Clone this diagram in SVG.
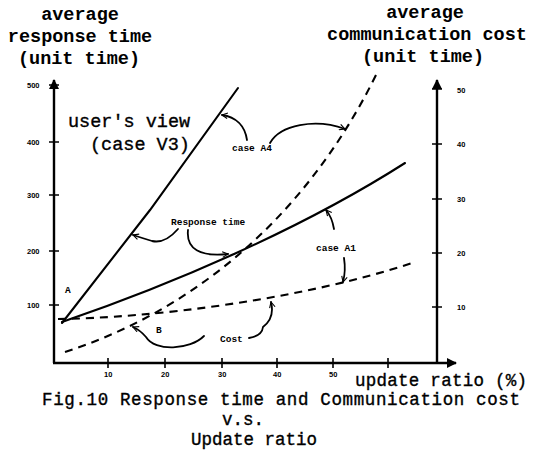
<svg xmlns="http://www.w3.org/2000/svg" width="534" height="459" viewBox="0 0 534 459">
  <style>
    .axis { stroke: #000; stroke-width: 2.4; fill: none; }
    .tick { stroke: #000; stroke-width: 1.6; fill: none; }
    .solid { stroke: #000; stroke-width: 2.1; fill: none; stroke-linecap: round; }
    .dash { stroke: #000; stroke-width: 2.1; fill: none; stroke-dasharray: 8 6; }
    .pointer { stroke: #000; stroke-width: 1.8; fill: none; stroke-linecap: round; marker-end: url(#open); }
    .head { font-family: "Liberation Mono", "DejaVu Sans Mono", monospace; font-size: 18.5px; font-weight: bold; fill: #000; text-anchor: middle; }
    .body { font-family: "Liberation Mono", "DejaVu Sans Mono", monospace; font-size: 18.5px; fill: #000; stroke: #000; stroke-width: 0.35; }
    .cap { font-family: "Liberation Mono", "DejaVu Sans Mono", monospace; font-size: 17.5px; fill: #000; stroke: #000; stroke-width: 0.35; }
    .num { font-family: "Liberation Sans", Arial, sans-serif; font-size: 7.5px; font-weight: bold; fill: #000; }
    .note { font-family: "Liberation Mono", "DejaVu Sans Mono", monospace; font-size: 9.5px; font-weight: bold; fill: #000; }
  </style>
  <defs>
    <marker id="open" viewBox="0 0 10 10" refX="9" refY="5" markerWidth="7" markerHeight="7" markerUnits="userSpaceOnUse" orient="auto">
      <path d="M1,1 L9,5 L1,9" fill="none" stroke="#000" stroke-width="1.6"/>
    </marker>
    <marker id="solidhead" viewBox="0 0 10 10" refX="9" refY="5" markerWidth="10" markerHeight="10" markerUnits="userSpaceOnUse" orient="auto">
      <path d="M0,0 L10,5 L0,10 Z" fill="#000"/>
    </marker>
  </defs>

  <rect width="534" height="459" fill="#fff"/>

  <!-- axis titles -->
  <g id="left-title">
    <text class="head" x="80" y="20">average</text>
    <text class="head" x="80" y="42">response time</text>
    <text class="head" x="79" y="64">(unit time)</text>
  </g>
  <g id="right-title">
    <text class="head" x="425" y="18">average</text>
    <text class="head" x="427" y="40">communication cost</text>
    <text class="head" x="423" y="62">(unit time)</text>
  </g>

  <!-- axes -->
  <g id="axes">
    <path class="axis" d="M54,363 L54,80" marker-end="url(#solidhead)"/>
    <path class="axis" d="M437,363 L437,80" marker-end="url(#solidhead)"/>
    <path class="axis" d="M53,363 L456,363" marker-end="url(#solidhead)"/>
    <!-- left ticks -->
    <path class="tick" d="M49,85 H59 M49,142 H59 M49,195 H59 M49,251 H59 M49,305 H59"/>
    <!-- right ticks -->
    <path class="tick" d="M432,89 H442 M432,144 H442 M432,199 H442 M432,253 H442 M432,307 H442"/>
    <!-- bottom ticks -->
    <path class="tick" d="M108,358 V368 M165,358 V368 M222,358 V368 M277,358 V368 M333,358 V368 M388,358 V368"/>
  </g>

  <g id="left-scale">
    <text class="num" x="27" y="88">500</text>
    <text class="num" x="27" y="145">400</text>
    <text class="num" x="27" y="198">300</text>
    <text class="num" x="27" y="254">200</text>
    <text class="num" x="27" y="308">100</text>
  </g>
  <g id="right-scale">
    <text class="num" x="457" y="93">50</text>
    <text class="num" x="457" y="147">40</text>
    <text class="num" x="457" y="202">30</text>
    <text class="num" x="457" y="256">20</text>
    <text class="num" x="457" y="310">10</text>
  </g>
  <g id="bottom-scale">
    <text class="num" x="104" y="377">10</text>
    <text class="num" x="161" y="377">20</text>
    <text class="num" x="218" y="377">30</text>
    <text class="num" x="273" y="377">40</text>
    <text class="num" x="329" y="377">50</text>
  </g>

  <!-- curves -->
  <g id="curves">
    <path id="case-v3" class="solid" d="M62,323 L150,210 L238,88"/>
    <path id="response-a1" class="solid" d="M62,322 C170,285 300,230 405,163"/>
    <path id="cost-a1" class="dash" d="M58,319 C150,318 300,300 412,263"/>
    <path id="cost-a4" class="dash" d="M65,352 C180,315 300,230 377,73"/>
  </g>

  <!-- labels -->
  <g id="view-label">
    <text class="body" x="68" y="127">user's view</text>
    <text class="body" x="90" y="150">(case V3)</text>
  </g>
  <g id="point-a"><text class="note" x="65" y="293">A</text></g>
  <g id="point-b"><text class="note" x="156" y="333">B</text></g>
  <g id="label-response"><text class="note" x="171" y="225">Response time</text></g>
  <g id="label-a4"><text class="note" x="232" y="151">case A4</text></g>
  <g id="label-a1"><text class="note" x="316" y="251">case A1</text></g>
  <g id="label-cost"><text class="note" x="220" y="342">Cost</text></g>

  <!-- pointers -->
  <g id="connectors">
    <path class="pointer" d="M247,140 C245,126 236,117 222,115"/>
    <path class="pointer" d="M270,143 C280,125 315,118 345,129"/>
    <path class="pointer" d="M178,229 Q165,244 152,241 Q142,238 133,235"/>
    <path class="pointer" d="M188,230 C186,249 200,257 228,254"/>
    <path class="pointer" d="M334,229 Q332,217 326,210"/>
    <path class="pointer" d="M344,258 Q346,271 343,282"/>
    <path class="pointer" d="M204,336 C190,350 155,352 146,337 Q140,330 133,327"/>
    <path class="pointer" d="M249,338 Q262,336 263,327 Q275,318 271,302"/>
  </g>

  <!-- caption -->
  <g id="caption">
    <text class="cap" x="355" y="386" textLength="172">update ratio (%)</text>
    <text class="cap" x="42" y="405" textLength="478">Fig.10 Response time and Communication cost</text>
    <text class="cap" x="243" y="425" text-anchor="middle">v.s.</text>
    <text class="cap" x="254" y="445" text-anchor="middle">Update ratio</text>
  </g>
</svg>
